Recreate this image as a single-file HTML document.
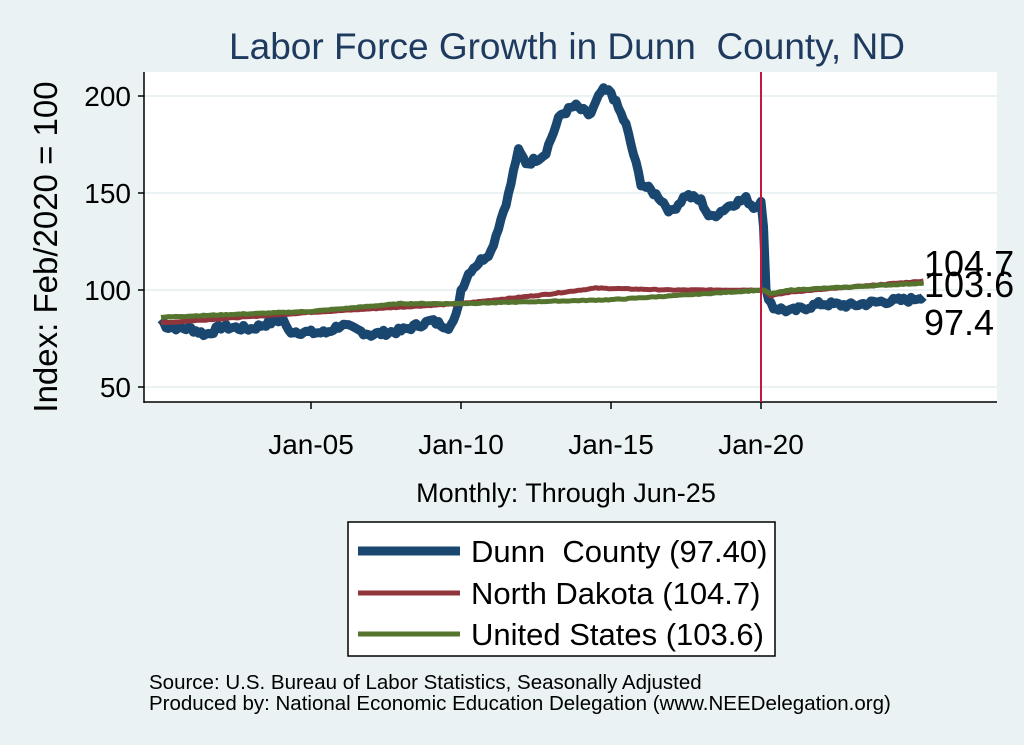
<!DOCTYPE html>
<html><head><meta charset="utf-8"><style>
body{margin:0;background:#eaf2f3;}
svg{display:block;font-family:"Liberation Sans",sans-serif;}
</style></head><body>
<svg id="s" width="1024" height="745" viewBox="0 0 1024 745">
<rect width="1024" height="745" fill="#eaf2f3"/>
<rect x="144" y="72" width="853" height="330" fill="#fff"/>
<g stroke="#eaf2f3" stroke-width="2">
<line x1="144" x2="997" y1="96" y2="96"/><line x1="144" x2="997" y1="193" y2="193"/>
<line x1="144" x2="997" y1="290" y2="290"/><line x1="144" x2="997" y1="387" y2="387"/>
</g>
<g stroke="#000" stroke-width="1.5">
<line x1="144" y1="72" x2="144" y2="403"/><line x1="144" y1="402" x2="997" y2="402"/>
<line x1="138" x2="144" y1="96" y2="96"/><line x1="138" x2="144" y1="193" y2="193"/>
<line x1="138" x2="144" y1="290" y2="290"/><line x1="138" x2="144" y1="387" y2="387"/>
<line x1="311" x2="311" y1="402" y2="409"/><line x1="461" x2="461" y1="402" y2="409"/>
<line x1="611" x2="611" y1="402" y2="409"/><line x1="761" x2="761" y1="402" y2="409"/>
</g>
<g font-size="28" text-anchor="end" fill="#000">
<text x="131" y="106">200</text><text x="131" y="203">150</text><text x="131" y="300">100</text><text x="131" y="397">50</text>
</g>
<g font-size="28" text-anchor="middle">
<text x="311" y="454">Jan-05</text><text x="461" y="454">Jan-10</text><text x="611" y="454">Jan-15</text><text x="761" y="454">Jan-20</text>
</g>
<text x="567" y="59" font-size="37" text-anchor="middle" fill="#1e3a5f">Labor Force Growth in Dunn&#160; County, ND</text>
<text transform="translate(57,247) rotate(-90)" font-size="33" text-anchor="middle">Index: Feb/2020 = 100</text>
<text x="566" y="502" font-size="27" text-anchor="middle">Monthly: Through Jun-25</text>
<g id="lines"></g>
<line x1="761" x2="761" y1="72" y2="402" stroke="#c4183c" stroke-width="2"/>
<g font-size="36"><text x="924" y="276">104.7</text><text x="924" y="297">103.6</text><text x="924" y="335">97.4</text></g>
<rect x="348" y="522" width="427" height="134" fill="#fff" stroke="#000" stroke-width="1.5"/>
<line x1="358" x2="460" y1="551" y2="551" stroke="#1a476f" stroke-width="9"/>
<line x1="358" x2="460" y1="593" y2="593" stroke="#90353b" stroke-width="5"/>
<line x1="358" x2="460" y1="634" y2="634" stroke="#55752f" stroke-width="5"/>
<g font-size="31"><text x="471" y="562">Dunn&#160; County (97.40)</text><text x="471" y="604">North Dakota (104.7)</text><text x="471" y="645">United States (103.6)</text></g>
<g font-size="20.5"><text x="149" y="689">Source: U.S. Bureau of Labor Statistics, Seasonally Adjusted</text><text x="149" y="710">Produced by: National Economic Education Delegation (www.NEEDelegation.org)</text></g>
</svg>
<script>
function X(t){return 161+(t-2000)*30;}function Y(v){return 290-(v-100)*1.94;}
function interp(k,t){for(var i=0;i<k.length-1;i++){if(t<=k[i+1][0]){var a=k[i],b=k[i+1];return a[1]+(b[1]-a[1])*(t-a[0])/(b[0]-a[0]);}}return k[k.length-1][1];}
var seed=7;function rnd(){seed=(seed*9301+49297)%233280;return seed/233280-0.5;}
function series(k,noise){var p=[];for(var m=0;m<=305;m++){var t=2000+m/12;var v=interp(k,t)+rnd()*noise;p.push(X(t).toFixed(1)+","+Y(v).toFixed(1));}return p.join(" ");}
var dunn=[[2000,85],[2000.2,81],[2001,80],[2001.5,77],[2002,81],[2003,80],[2003.8,84],[2004.1,85],[2004.2,79],[2005,78],[2005.5,78],[2006,82],[2007,77],[2008,79],[2009,84],[2009.6,81],[2009.8,84],[2010,100],[2010.3,110],[2011,120],[2011.6,150],[2011.9,172],[2012.2,165],[2012.8,170],[2013.3,190],[2013.8,195],[2014.3,190],[2014.7,203],[2015,202],[2015.5,185],[2016,155],[2016.6,148],[2017,140],[2017.5,149],[2018,146],[2018.3,137],[2019,144],[2019.5,147],[2019.8,142],[2020.05,148],[2020.15,100],[2020.4,91],[2021,89],[2022,93],[2023,92],[2024,94],[2025,95],[2025.5,97.4]];
var nd=[[2000,83],[2005,88.5],[2010,93],[2013,98],[2014.5,101],[2017,100],[2020.1,100],[2020.3,97],[2021,99],[2025.5,104.7]];
var us=[[2000,86],[2005,89],[2008,93],[2010,93],[2015,95],[2020.1,100],[2020.3,98],[2021,100],[2025.5,103.6]];
var g=document.getElementById("lines");
g.innerHTML='<polyline fill="none" stroke="#1a476f" stroke-width="9" stroke-linejoin="round" points="'+series(dunn,3)+'"/>'+
'<polyline fill="none" stroke="#90353b" stroke-width="5" points="'+series(nd,0.4)+'"/>'+
'<polyline fill="none" stroke="#55752f" stroke-width="5" points="'+series(us,0.4)+'"/>';
</script>
</body></html>
